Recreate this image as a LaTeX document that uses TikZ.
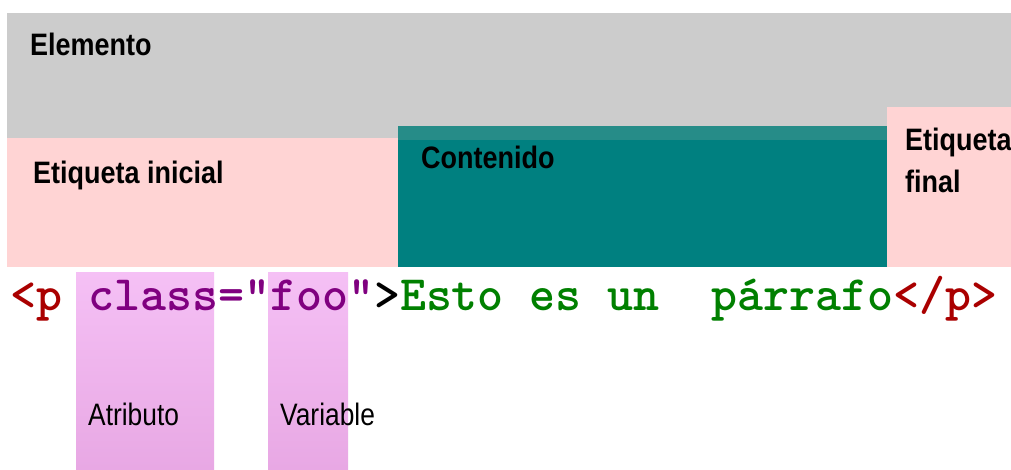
\documentclass[tikz,border=0pt]{standalone}
\usepackage{fontspec}
\newfontfamily\hdbold[FakeStretch=0.87]{Liberation Sans Bold}
\newfontfamily\hdreg[FakeStretch=0.85]{Liberation Sans}
\definecolor{grayel}{HTML}{CCCCCC}
\definecolor{pinktag}{HTML}{FFD4D4}
\definecolor{tealc}{HTML}{008080}
\definecolor{tealstrip}{HTML}{268C88}
\definecolor{hltop}{HTML}{F5C0F5}
\definecolor{hlbot}{HTML}{E8A8E4}
\definecolor{codered}{HTML}{AA0000}
\definecolor{codepurple}{HTML}{800080}
\definecolor{codegreen}{HTML}{008000}
\tikzset{
  region/.style={draw=none},
  hlbox/.style={draw=none, top color=hltop, bottom color=hlbot},
  headlbl/.style={anchor=base west, inner sep=0pt, font=\hdbold\fontsize{31}{42}\selectfont, text=black},
  smalllbl/.style={anchor=base west, inner sep=0pt, font=\hdreg\fontsize{31}{36}\selectfont, text=black},
  codelbl/.style={anchor=base west, inner sep=0pt, font=\fontsize{49.5}{50}\selectfont\ttfamily\bfseries}
}
\begin{document}
\begin{tikzpicture}[x=1pt,y=-1pt]
\useasboundingbox[fill=white] (0,0) rectangle (1011,469);
% regions
\fill[grayel] (7,13) rectangle (1011,138);
\fill[pinktag] (7,138) rectangle (398,267);
\fill[tealc] (398,126) rectangle (887,267);
\fill[tealstrip] (398,126) rectangle (887,140);
\fill[pinktag] (887,107) rectangle (1011,267);
% highlight boxes
\shade[hlbox] (76,272) rectangle (214,469);
\shade[hlbox] (268,272) rectangle (348,469);
% labels
\node[headlbl] (elemento) at (30,55) {Elemento};
\node[headlbl] (inicial) at (33,183) {Etiqueta inicial};
\node[headlbl] (contenido) at (421,168) {Contenido};
\node[headlbl] (final1) at (905,150) {Etiqueta};
\node[headlbl] (final2) at (905,192) {final};
\node[smalllbl] (atributo) at (88,425) {Atributo};
\node[smalllbl] (variable) at (280,425) {Variable};
% code line
\node[codelbl] (code) at (10,310) {\textcolor{codered}{<p} \textcolor{codepurple}{class="foo"}\textcolor{black}{>}\textcolor{codegreen}{Esto es un\ \ párrafo}\textcolor{codered}{</p>}};
\end{tikzpicture}
\end{document}
